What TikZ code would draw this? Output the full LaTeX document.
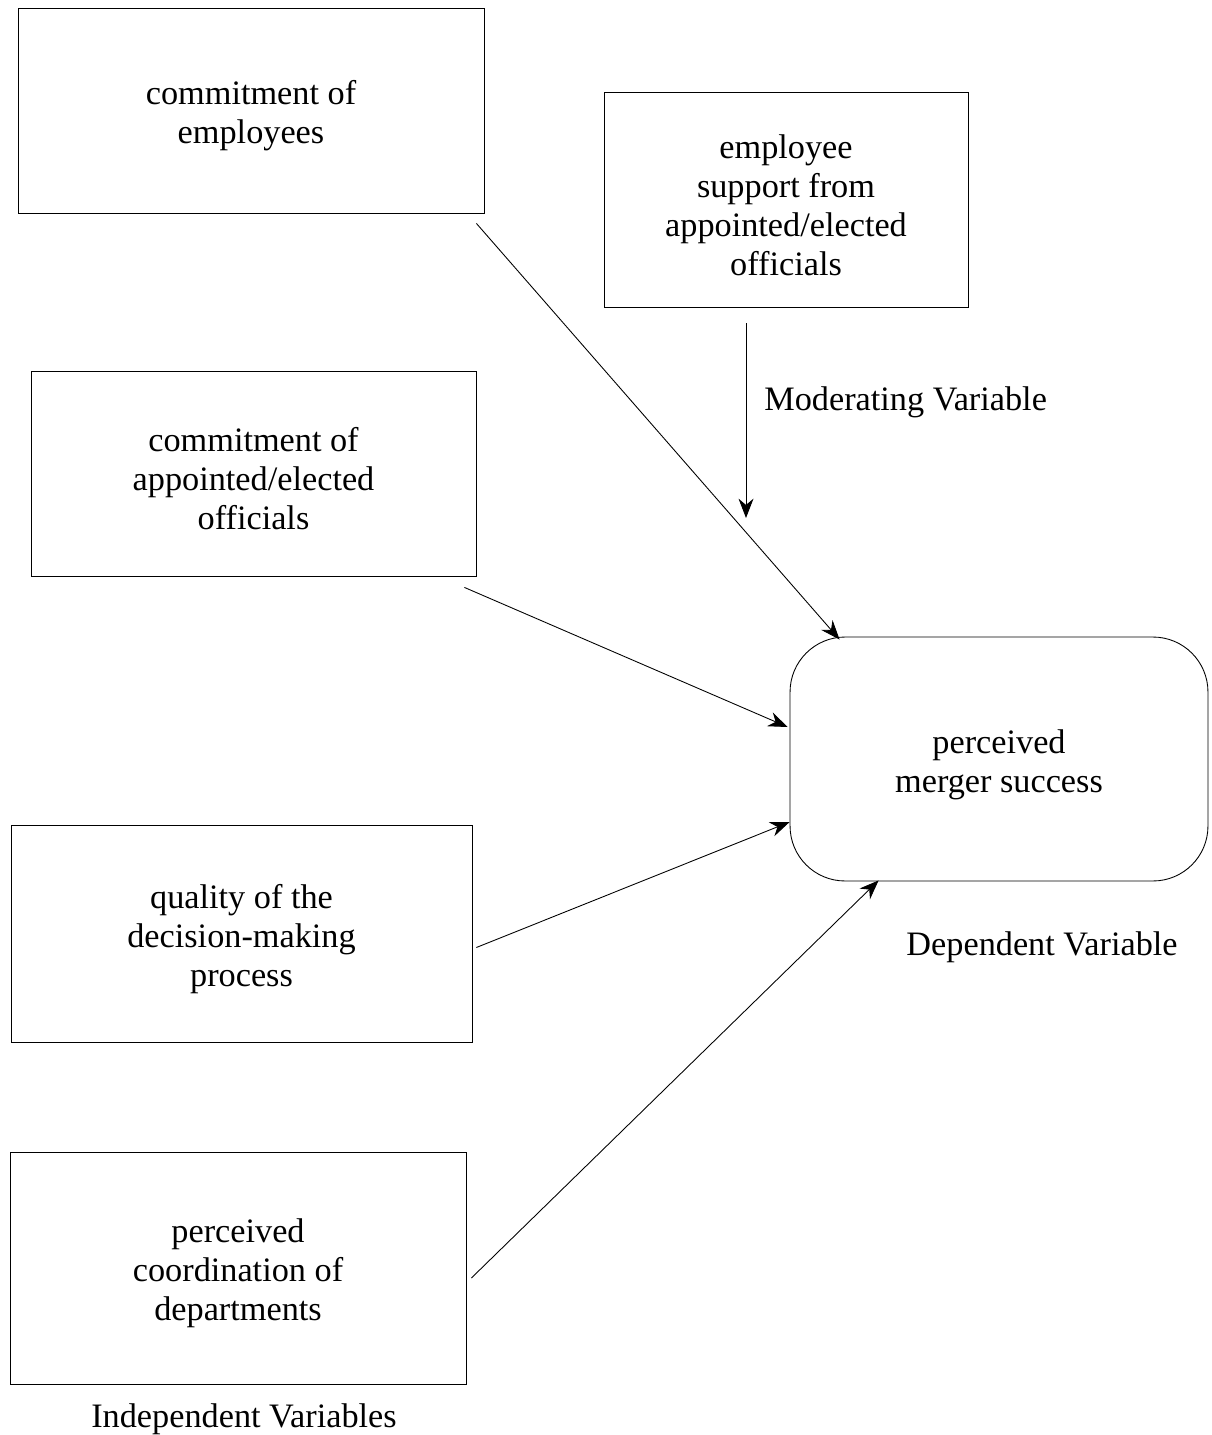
\documentclass[tikz,border=0pt]{standalone}
\usepackage{fontspec}
\setmainfont{Liberation Serif}
\usetikzlibrary{arrows.meta}

\newcommand{\topgap}{\rule{0pt}{20pt}}

\tikzset{
  var/.style={draw, black, line width=0.5pt, align=center, inner sep=0pt},
  dep/.style={var, rounded corners=1.1cm},
  arr/.style={black, line width=0.5pt, -{Stealth[length=11pt,width=8.5pt]}},
  lab/.style={inner sep=0pt}
}

\begin{document}
\begin{tikzpicture}[x=0.02cm, y=-0.02cm, font=\fontsize{19.5}{22.2}\selectfont]
        \useasboundingbox (0,0) rectangle (1211,1435);
        % independent variables
        \node [var, minimum width=9.32cm, minimum height=4.1cm] (empl) at (251,110.5) {\topgap commitment of\\employees};
        \node [var, minimum width=8.9cm, minimum height=4.1cm] (offic) at (253.5,473.5) {\topgap commitment of\\appointed/elected\\officials};
        \node [var, minimum width=9.22cm, minimum height=4.34cm] (decis) at (241.5,933.5) {\topgap quality of the\\decision-making\\process};
        \node [var, minimum width=9.12cm, minimum height=4.64cm] (coord) at (238,1268) {\topgap perceived\\coordination of\\departments};
        % moderating variable
        \node [var, minimum width=7.28cm, minimum height=4.3cm] (suppt) at (786,199.5) {\topgap employee\\support from\\appointed/elected\\officials};
        % dependent variable
        \node [dep, minimum width=8.36cm, minimum height=4.88cm] (succ) at (999,759) {\topgap perceived\\merger success};
        \coordinate (modtip) at (746,518);

        \node [lab, anchor=west] (modlab) at (764,402) {Moderating Variable};
        \node [lab] (deplab) at (1042,947) {Dependent Variable};
        \node [lab] (indlab) at (244,1419) {Independent Variables};

        \draw [arr] ([shift={(-8,10)}]empl.south east) to ([shift={(50,3)}]succ.north west);
        \draw [arr] ([shift={(-40,16)}]suppt.south) to (modtip);
        \draw [arr] ([shift={(-12,11)}]offic.south east) to ([shift={(-2,-32)}]succ.west);
        \draw [arr] ([shift={(4,14)}]decis.east) to ([shift={(0,63)}]succ.west);
        \draw [arr] ([shift={(5,10)}]coord.east) to ([shift={(89,-1)}]succ.south west);
    \end{tikzpicture}
\end{document}
